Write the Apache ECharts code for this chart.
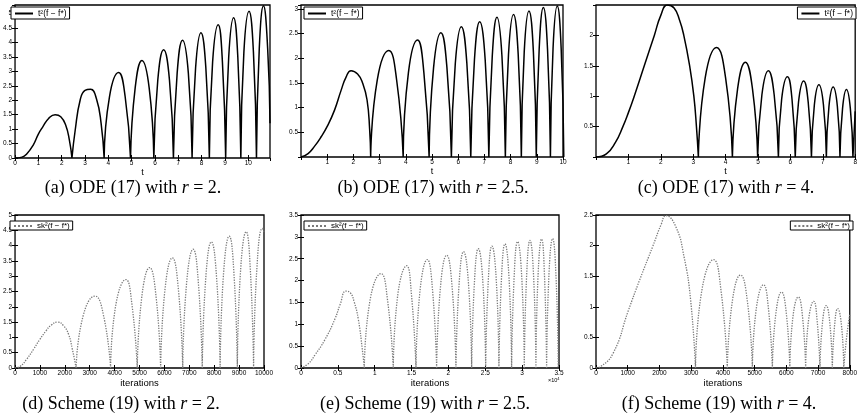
<!DOCTYPE html>
<html>
<head>
<meta charset="utf-8">
<script src="https://cdn.jsdelivr.net/npm/echarts@6/dist/echarts.min.js"></script>
<style>
html, body { margin: 0; background: #fff; }
#chart { width: 860px; height: 420px; }
</style>
</head>
<body>
<div id="chart"></div>
<script>
// values, one list of arcs per panel (x, value)
const odeR2 = [
  [[0,0],[0.3,0.03],[0.5,0.14],[0.78,0.45],[1.0,0.83],[1.19,1.08],[1.44,1.37],[1.72,1.5],[1.96,1.43],[2.17,1.14],[2.33,0.62],[2.44,0]],
  [[2.44,0],[2.58,0.97],[2.79,2.0],[3.0,2.34],[3.24,2.38],[3.49,2.05],[3.69,1.2],[3.82,0]],
  [[3.82,0],[4.05,2.13],[4.44,2.96],[4.72,2.13],[4.95,0]],
  [[4.95,0],[5.15,2.43],[5.44,3.38],[5.75,2.43],[5.95,0]],
  [[5.95,0],[6.12,2.7],[6.37,3.75],[6.62,2.7],[6.79,0]],
  [[6.79,0],[6.95,2.94],[7.18,4.08],[7.43,2.94],[7.59,0]],
  [[7.59,0],[7.74,3.12],[7.97,4.34],[8.18,3.12],[8.33,0]],
  [[8.33,0],[8.47,3.33],[8.71,4.62],[8.89,3.33],[9.03,0]],
  [[9.03,0],[9.16,3.5],[9.37,4.86],[9.55,3.5],[9.68,0]],
  [[9.68,0],[9.81,3.66],[10.03,5.08],[10.22,3.66],[10.35,0]],
  [[10.35,0],[10.47,3.79],[10.65,5.27],[10.83,3.79],[10.93,1.2]]
];
const odeR25 = [
  [[0,0],[0.27,0.07],[0.52,0.22],[0.77,0.41],[1.0,0.62],[1.28,0.95],[1.53,1.35],[1.72,1.62],[1.91,1.75],[2.16,1.68],[2.35,1.5],[2.52,1.16],[2.62,0.56],[2.66,0]],
  [[2.66,0],[2.91,1.56],[3.35,2.16],[3.65,1.56],[3.90,0]],
  [[3.90,0],[4.10,1.71],[4.45,2.37],[4.69,1.71],[4.89,0]],
  [[4.89,0],[5.06,1.81],[5.34,2.52],[5.57,1.81],[5.74,0]],
  [[5.74,0],[5.89,1.9],[6.12,2.64],[6.33,1.9],[6.48,0]],
  [[6.48,0],[6.62,1.97],[6.82,2.74],[7.03,1.97],[7.17,0]],
  [[7.17,0],[7.30,2.04],[7.48,2.83],[7.67,2.04],[7.80,0]],
  [[7.80,0],[7.92,2.08],[8.11,2.89],[8.29,2.08],[8.41,0]],
  [[8.41,0],[8.52,2.13],[8.70,2.96],[8.87,2.13],[8.98,0]],
  [[8.98,0],[9.09,2.18],[9.25,3.03],[9.41,2.18],[9.52,0]],
  [[9.52,0],[9.62,2.2],[9.78,3.06],[9.93,2.2],[10.03,0]]
];
const odeR4 = [
  [[0,0],[0.32,0.05],[0.6,0.24],[0.83,0.5],[1.0,0.73],[1.18,1.0],[1.49,1.5],[1.8,2.0],[2.0,2.33],[2.2,2.5],[2.41,2.45],[2.58,2.25],[2.71,2.0],[2.89,1.5],[3.02,1.0],[3.1,0.5],[3.16,0]],
  [[3.16,0],[3.37,1.3],[3.72,1.8],[4.0,1.3],[4.21,0]],
  [[4.21,0],[4.37,1.12],[4.61,1.56],[4.83,1.12],[4.99,0]],
  [[4.99,0],[5.12,1.02],[5.32,1.42],[5.50,1.02],[5.63,0]],
  [[5.63,0],[5.73,0.95],[5.91,1.32],[6.05,0.95],[6.15,0]],
  [[6.15,0],[6.25,0.9],[6.41,1.25],[6.55,0.9],[6.65,0]],
  [[6.65,0],[6.74,0.86],[6.88,1.19],[7.02,0.86],[7.11,0]],
  [[7.11,0],[7.19,0.83],[7.32,1.15],[7.45,0.83],[7.53,0]],
  [[7.53,0],[7.61,0.8],[7.73,1.11],[7.85,0.8],[7.93,0]],
  [[7.93,0],[8.0,0.75]]
];
const schemeR2 = [
  [[0,0],[200,0.05],[470,0.29],[750,0.62],[992,0.93],[1250,1.22],[1450,1.4],[1710,1.5],[1950,1.38],[2150,1.1],[2300,0.62],[2454,0]],
  [[2454,0],[2731,1.69],[3211,2.35],[3561,1.69],[3838,0]],
  [[3838,0],[4052,2.08],[4452,2.89],[4695,2.08],[4909,0]],
  [[4909,0],[5097,2.36],[5405,3.28],[5661,2.36],[5849,0]],
  [[5849,0],[6026,2.59],[6319,3.6],[6559,2.59],[6736,0]],
  [[6736,0],[6893,2.79],[7154,3.88],[7363,2.79],[7520,0]],
  [[7520,0],[7664,2.97],[7885,4.12],[8094,2.97],[8238,0]],
  [[8238,0],[8376,3.1],[8603,4.31],[8792,3.1],[8930,0]],
  [[8930,0],[9060,3.2],[9282,4.45],[9452,3.2],[9582,0]],
  [[9582,0],[9716,3.28],[9935,4.56],[10000,4.45]]
];
const schemeR25 = [
  [[0,0],[1000,0.1],[1900,0.3],[3250,0.65],[4600,1.12],[5300,1.45],[6100,1.76],[6700,1.72],[7200,1.52],[7780,1.11],[8320,0.42],[8590,0]],
  [[8590,0],[9376,1.56],[10850,2.16],[11734,1.56],[12520,0]],
  [[12520,0],[13136,1.68],[14330,2.34],[14984,1.68],[15600,0]],
  [[15600,0],[16160,1.79],[17130,2.48],[17840,1.79],[18400,0]],
  [[18400,0],[18924,1.86],[19760,2.58],[20496,1.86],[21020,0]],
  [[21020,0],[21446,1.92],[22050,2.66],[22724,1.92],[23150,0]],
  [[23150,0],[23530,1.97],[24050,2.73],[24670,1.97],[25050,0]],
  [[25050,0],[25410,2.01],[25900,2.79],[26490,2.01],[26850,0]],
  [[26850,0],[27194,2.04],[27670,2.84],[28226,2.04],[28570,0]],
  [[28570,0],[28914,2.08],[29380,2.89],[29946,2.08],[30290,0]],
  [[30290,0],[30606,2.1],[31060,2.92],[31554,2.1],[31870,0]],
  [[31870,0],[32160,2.12],[32640,2.95],[33030,2.12],[33320,0]],
  [[33320,0],[33636,2.13],[34130,2.96],[34584,2.13],[34900,0]]
];
const schemeR4 = [
  [[0,0],[135,0.02],[549,0.25],[1014,0.93],[1377,1.44],[1791,1.99],[2050,2.34],[2205,2.49],[2515,2.31],[2774,1.82],[2981,1.12],[3137,0]],
  [[3137,0],[3337,1.27],[3706,1.77],[3940,1.27],[4140,0]],
  [[4140,0],[4298,1.09],[4555,1.52],[4772,1.09],[4930,0]],
  [[4930,0],[5056,0.98],[5280,1.36],[5434,0.98],[5560,0]],
  [[5560,0],[5670,0.89],[5849,1.24],[6000,0.89],[6110,0]],
  [[6110,0],[6210,0.84],[6377,1.16],[6510,0.84],[6610,0]],
  [[6610,0],[6700,0.78],[6863,1.09],[6970,0.78],[7060,0]],
  [[7060,0],[7138,0.73],[7257,1.02],[7372,0.73],[7450,0]],
  [[7450,0],[7522,0.7],[7619,0.97],[7738,0.7],[7810,0]],
  [[7810,0],[7900,0.5],[8000,0.88]]
];

// axis ranges [min, max, interval]
const xRanges = [[0,10.93,1],[0,10,1],[0,8,1],[0,10000,1000],[0,35000,5000],[0,8000,1000]];
const yRanges = [[0,5.3,0.5],[0,3.08,0.5],[0,2.5,0.5],[0,5,0.5],[0,3.5,0.5],[0,2.5,0.5]];
const xShowMin = [true,false,false,true,true,true];
const xShowMax = [false,true,true,true,true,true];
const yShowMin = [true,false,false,true,true,true];
const yShowMax = [false,false,false,true,true,true];
const xNames = ['t','t','t','iterations','iterations','iterations'];

const odeName = 't\u00b2(f \u2212 f*)';
const schemeName = 'sk\u00b2(f \u2212 f*)';
const captions = [
  '(a) ODE (17) with {i|r} = 2.',
  '(b) ODE (17) with {i|r} = 2.5.',
  '(c) ODE (17) with {i|r} = 4.',
  '(d) Scheme (19) with {i|r} = 2.',
  '(e) Scheme (19) with {i|r} = 2.5.',
  '(f) Scheme (19) with {i|r} = 4.'
];

const allArcs = [odeR2, odeR25, odeR4, schemeR2, schemeR25, schemeR4];

// layout of each panel
const grids = [
  {left: 8, top: 5, width: 262, height: 153},
  {left: 301, top: 5, width: 262, height: 152},
  {left: 596, top: 5, width: 260, height: 152},
  {left: 8, top: 215, width: 256, height: 153},
  {left: 301, top: 215, width: 258, height: 153},
  {left: 596, top: 215, width: 257, height: 153}
];
const legendPos = [
  {left: 11, top: 7}, {left: 304, top: 7}, {right: 4, top: 7},
  {left: 10, top: 221}, {left: 304, top: 221}, {right: 7, top: 221}
];
const captionPos = [[133,188],[433,188],[726,188],[121,404],[425,404],[719,404]];

// break the line between arcs so the cusps stay sharp
function joinArcs(arcs) {
  const out = [];
  arcs.forEach(function (a, i) {
    if (i) out.push(['-', '-']);
    a.forEach(function (p) { out.push(p); });
  });
  return out;
}

const SANS = 'Liberation Sans';
const SERIF = 'Liberation Serif';

const xAxis = [], yAxis = [], series = [], legend = [], graphic = [];

grids.forEach(function (g, i) {
  const xr = xRanges[i], yr = yRanges[i];
  const tick = {show: true, inside: true, length: 3, lineStyle: {color: '#000', width: 1}};
  const lbl = {fontSize: 6.5, color: '#000', fontFamily: SANS};
  const xFmt = i === 4 ? function (v) { return String(v / 10000); } : function (v) { return String(v); };

  xAxis.push({
    type: 'value', gridIndex: i, position: 'bottom',
    min: xr[0], max: xr[1], interval: xr[2],
    axisLine: {show: false}, axisTick: tick, splitLine: {show: false},
    axisLabel: Object.assign({margin: 2, showMinLabel: xShowMin[i], showMaxLabel: xShowMax[i], formatter: xFmt}, lbl),
    name: xNames[i], nameLocation: 'middle', nameGap: i < 3 ? 6 : 7,
    nameTextStyle: {fontSize: i < 3 ? 9 : 9.5, color: '#000', fontFamily: SANS}
  });
  xAxis.push({
    type: 'value', gridIndex: i, position: 'top',
    min: xr[0], max: xr[1], interval: xr[2],
    axisLine: {show: false}, axisTick: tick, splitLine: {show: false}, axisLabel: {show: false}
  });
  yAxis.push({
    type: 'value', gridIndex: i, position: 'left',
    min: yr[0], max: yr[1], interval: yr[2],
    axisLine: {show: false}, axisTick: tick, splitLine: {show: false},
    axisLabel: Object.assign({margin: 3, showMinLabel: yShowMin[i], showMaxLabel: yShowMax[i],
      formatter: function (v) { return String(v); }}, lbl)
  });
  yAxis.push({
    type: 'value', gridIndex: i, position: 'right',
    min: yr[0], max: yr[1], interval: yr[2],
    axisLine: {show: false}, axisTick: tick, splitLine: {show: false}, axisLabel: {show: false}
  });

  const ode = i < 3;
  const col = ode ? '#000' : '#7a7a7a';
  series.push({
    type: 'line',
    name: ode ? odeName : schemeName,
    xAxisIndex: 2 * i, yAxisIndex: 2 * i,
    data: joinArcs(allArcs[i]),
    smooth: 0.5,
    symbol: 'none', showSymbol: false,
    connectNulls: false,
    itemStyle: {color: col},
    lineStyle: ode ? {color: col, width: 1.5} : {color: col, width: 1.3, type: 'dotted'},
    z: 2
  });

  legend.push(Object.assign({
    data: [ode ? odeName : schemeName],
    selectedMode: false,
    padding: ode ? [2, 3, 1, 3] : [1, 3, 0, 3],
    itemWidth: 18, itemHeight: 8,
    itemStyle: {opacity: 0},
    borderColor: '#000', borderWidth: 1, borderRadius: 0,
    backgroundColor: '#fff',
    textStyle: {fontSize: ode ? 8.5 : 8, color: '#000', fontFamily: SANS}
  }, legendPos[i]));

  graphic.push({
    type: 'text', x: captionPos[i][0], y: captionPos[i][1],
    style: {
      text: captions[i], fill: '#000', fontSize: 18, fontFamily: SERIF,
      align: 'center', verticalAlign: 'middle',
      rich: {i: {fontStyle: 'italic', fontSize: 18, fontFamily: SERIF, fill: '#000'}}
    }
  });
});

// exponent note under panel (e)
graphic.push({
  type: 'text', x: 548, y: 377,
  style: {text: '\u00d710{s|4}', fill: '#000', fontSize: 5.5, fontFamily: SANS,
    rich: {s: {fontSize: 4, fontFamily: SANS, fill: '#000', verticalAlign: 'top', padding: [0, 0, 3, 0]}}}
});

const chart = echarts.init(document.getElementById('chart'));
chart.setOption({
  animation: false,
  backgroundColor: '#fff',
  grid: grids.map(function (g) {
    return Object.assign({show: true, borderColor: '#000', borderWidth: 1.3, backgroundColor: 'transparent', containLabel: false}, g);
  }),
  xAxis: xAxis,
  yAxis: yAxis,
  legend: legend,
  series: series,
  graphic: graphic
});
</script>
</body>
</html>
